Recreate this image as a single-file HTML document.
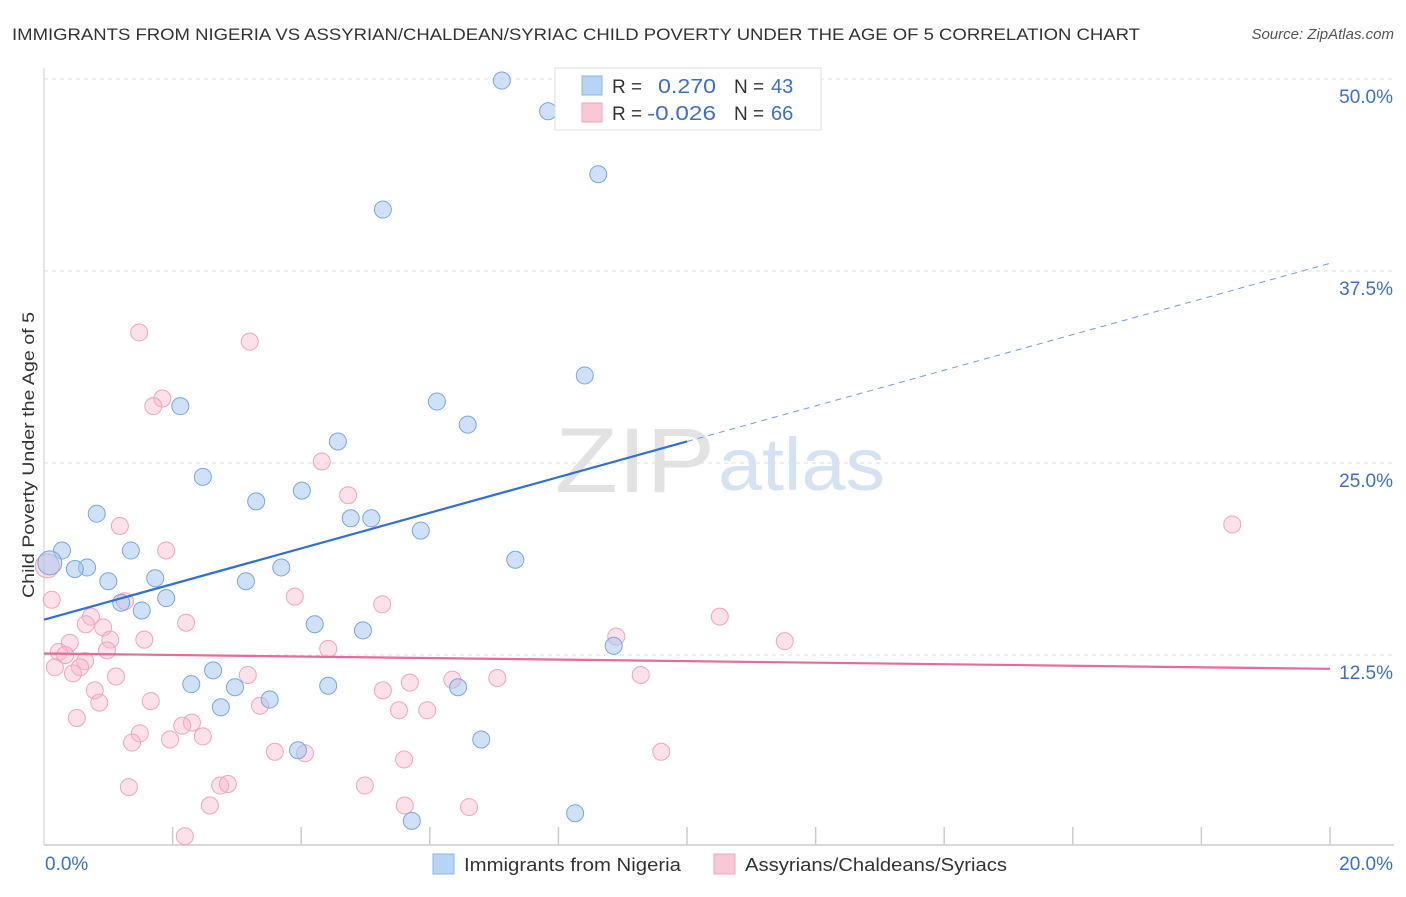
<!DOCTYPE html>
<html><head><meta charset="utf-8"><style>
body{margin:0;background:#fff;font-family:"Liberation Sans",sans-serif;}
svg text{font-family:"Liberation Sans",sans-serif;}
</style></head><body>
<svg id="chart" width="1406" height="892" xmlns="http://www.w3.org/2000/svg">
<text x="12" y="40" font-size="17" fill="#333" textLength="1128" lengthAdjust="spacingAndGlyphs">IMMIGRANTS FROM NIGERIA VS ASSYRIAN/CHALDEAN/SYRIAC CHILD POVERTY UNDER THE AGE OF 5 CORRELATION CHART</text>
<text x="1394" y="39" font-size="15" fill="#555" font-style="italic" text-anchor="end">Source: ZipAtlas.com</text>
<text transform="translate(34,598) rotate(-90)" font-size="17" fill="#333" textLength="286" lengthAdjust="spacingAndGlyphs">Child Poverty Under the Age of 5</text>
<g id="grid"></g>
<text x="555" y="492" font-size="92" fill="#e2e2e2" font-family="Liberation Serif" textLength="160" lengthAdjust="spacingAndGlyphs">ZIP</text>
<text x="718" y="490" font-size="74" fill="#d4e2f4" textLength="167" lengthAdjust="spacingAndGlyphs">atlas</text>
<g id="marks"></g>
<g>
<rect x="555" y="68" width="266" height="62" fill="#fff" stroke="#ddd"/>
<rect x="582" y="76" width="20" height="19" fill="#b8d4f5" stroke="#8ab3e8"/>
<rect x="582" y="103" width="20" height="19" fill="#f9c8d6" stroke="#f0a5bc"/>
<text x="612" y="93" font-size="19" fill="#333">R =</text>
<text x="658" y="93" font-size="20" fill="#3a6fd0" textLength="58" lengthAdjust="spacingAndGlyphs">0.270</text>
<text x="734" y="93" font-size="19" fill="#333">N =</text>
<text x="771" y="93" font-size="20" fill="#3a6fd0">43</text>
<text x="612" y="120" font-size="19" fill="#333">R =</text>
<text x="647" y="120" font-size="20" fill="#3a6fd0" textLength="69" lengthAdjust="spacingAndGlyphs">-0.026</text>
<text x="734" y="120" font-size="19" fill="#333">N =</text>
<text x="771" y="120" font-size="20" fill="#3a6fd0">66</text>
</g>
<g>
<rect x="433" y="854" width="21" height="20" fill="#b8d4f5" stroke="#8ab3e8"/>
<text x="464" y="871" font-size="18" fill="#333" textLength="217" lengthAdjust="spacingAndGlyphs">Immigrants from Nigeria</text>
<rect x="714" y="854" width="21" height="20" fill="#f9c8d6" stroke="#f0a5bc"/>
<text x="745" y="871" font-size="18" fill="#333" textLength="262" lengthAdjust="spacingAndGlyphs">Assyrians/Chaldeans/Syriacs</text>
</g>
</svg>
<script>
const blueX=[7.12,7.84,8.62,5.27,8.41,6.11,2.12,6.59,4.57,2.47,4.01,3.30,0.82,4.77,5.09,5.86,1.35,0.28,7.33,0.67,0.48,3.69,1.73,1.00,3.14,1.90,1.20,1.52,4.21,4.96,8.86,2.63,2.29,4.42,2.97,6.44,3.51,2.75,6.80,3.95,5.72,8.26,0.09];
const blueY=[49.9,47.9,43.8,41.5,30.7,29.0,28.7,27.5,26.4,24.1,23.2,22.5,21.7,21.4,21.4,20.6,19.3,19.3,18.7,18.2,18.1,18.2,17.5,17.3,17.3,16.2,15.9,15.4,14.5,14.1,13.1,11.5,10.6,10.5,10.4,10.4,9.6,9.1,7.0,6.3,1.7,2.2,18.5];
const pinkX=[1.48,3.20,1.84,1.70,4.32,4.73,1.18,1.90,18.48,0.12,1.26,3.90,5.26,0.73,10.51,0.65,2.21,0.92,8.90,11.52,0.40,1.03,1.56,4.42,0.98,0.23,0.33,0.64,0.17,0.56,0.45,1.12,3.17,9.28,7.05,6.35,5.69,0.79,5.27,1.66,0.86,3.36,5.52,5.96,0.51,2.30,2.15,1.49,2.47,1.96,1.37,3.59,4.06,9.60,5.60,2.74,2.86,4.99,1.32,2.58,5.61,6.61,2.19,0.05];
const pinkY=[33.5,32.9,29.2,28.7,25.1,22.9,20.9,19.3,21.0,16.1,16.0,16.3,15.8,15.0,15.0,14.5,14.6,14.3,13.7,13.4,13.3,13.5,13.5,12.9,12.8,12.7,12.5,12.1,11.7,11.7,11.3,11.1,11.2,11.2,11.0,10.9,10.7,10.2,10.2,9.5,9.4,9.2,8.9,8.9,8.4,8.1,7.9,7.4,7.2,7.0,6.8,6.2,6.1,6.2,5.7,4.0,4.1,4.0,3.9,2.7,2.7,2.6,0.7,18.3];
const bigIdx=[42,63];
const blueTrend=[14.8,26.4,38.0];
const pinkTrend=[12.6,11.6];
const yTicks=[12.5,25.0,37.5,50.0];
const xTickLabels=["0.0%","20.0%"];
const NS="http://www.w3.org/2000/svg";
const xs=v=>44+v/20*1286;
const ys=v=>847-v/12.5*192;
const grid=document.getElementById('grid'),marks=document.getElementById('marks');
function mk(tag,a,p){const e=document.createElementNS(NS,tag);for(const k in a)e.setAttribute(k,a[k]);p.appendChild(e);return e;}
yTicks.forEach(t=>{
 const l=mk('line',{x1:44,x2:1394,y1:ys(t),y2:ys(t),stroke:'#ddd','stroke-dasharray':'4,4'},grid);
 
 
 const tx=mk('text',{x:1393,y:ys(t)+24,'font-size':19,fill:'#3a6fd0','text-anchor':'end'},grid);
 tx.textContent=t.toFixed(1)+'%';
 
 
});
const ax=mk('line',{x1:44,x2:1394,y1:845,y2:845,stroke:'#ccc','stroke-width':1.5},grid);


const ay=mk('line',{x1:44,x2:44,y1:68,y2:845,stroke:'#ccc','stroke-width':1},grid);


for(let i=1;i<=10;i++){const tk=mk('line',{x1:xs(i*2),x2:xs(i*2),y1:827,y2:845,stroke:'#ccc','stroke-width':1.5},grid);
 
 }
const xl0=mk('text',{x:45,y:870,'font-size':19,fill:'#3a6fd0'},grid);xl0.textContent=xTickLabels[0];


const xl1=mk('text',{x:1393,y:870,'font-size':19,fill:'#3a6fd0','text-anchor':'end'},grid);xl1.textContent=xTickLabels[1];


pinkX.forEach((x,i)=>{const c=mk('circle',{cx:xs(x),cy:ys(pinkY[i]),r:i===bigIdx[1]?12:8.5,fill:'rgba(247,180,202,0.4)',stroke:'#f0a5bc','stroke-width':1},marks);
 
 });
blueX.forEach((x,i)=>{const c=mk('circle',{cx:xs(x),cy:ys(blueY[i]),r:i===bigIdx[0]?12:8.5,fill:'rgba(160,195,240,0.5)',stroke:'#7aa6e0','stroke-width':1},marks);
 
 });
const bl=mk('line',{x1:xs(0),y1:ys(blueTrend[0]),x2:xs(10),y2:ys(blueTrend[1]),stroke:'#2f6fd6','stroke-width':2.2},marks);


const bd=mk('line',{x1:xs(10),y1:ys(blueTrend[1]),x2:xs(20),y2:ys(blueTrend[2]),stroke:'#6f9be0','stroke-width':1,'stroke-dasharray':'6,5'},marks);


const pl=mk('line',{x1:xs(0),y1:ys(pinkTrend[0]),x2:xs(20),y2:ys(pinkTrend[1]),stroke:'#e8699a','stroke-width':2.2},marks);


</script>
</body></html>
